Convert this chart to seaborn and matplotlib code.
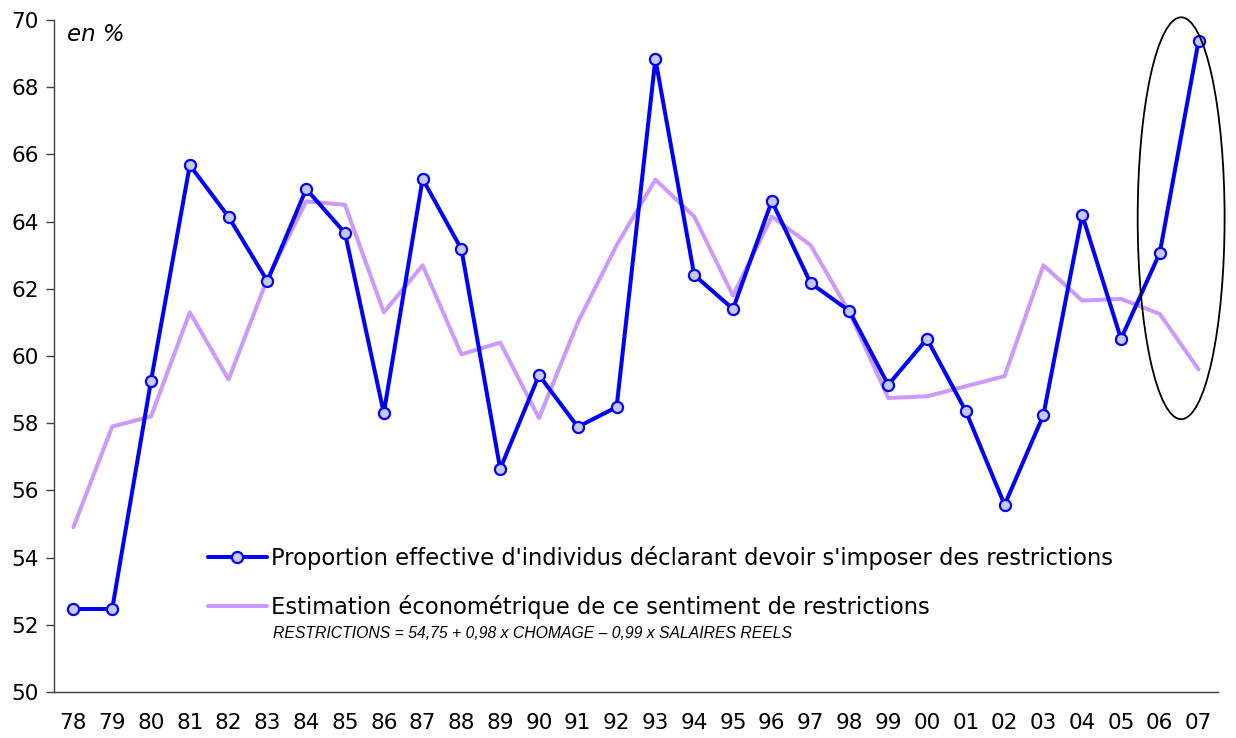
import numpy as np
import pandas as pd
import matplotlib.pyplot as plt
import seaborn as sns
from matplotlib.patches import Ellipse
from matplotlib.ticker import FixedLocator

# Data
years = ["78", "79", "80", "81", "82", "83", "84", "85", "86", "87",
         "88", "89", "90", "91", "92", "93", "94", "95", "96", "97",
         "98", "99", "00", "01", "02", "03", "04", "05", "06", "07"]
effective = [52.47, 52.47, 59.26, 65.68, 64.14, 62.23, 64.97, 63.66, 58.30, 65.27,
             63.18, 56.64, 59.43, 57.89, 58.48, 68.84, 62.41, 61.40, 64.61, 62.17,
             61.34, 59.14, 60.51, 58.36, 55.57, 58.24, 64.20, 60.51, 63.07, 69.38]
estimation = [54.9, 57.9, 58.2, 61.3, 59.3, 62.3, 64.6, 64.5, 61.3, 62.7,
              60.05, 60.4, 58.15, 61.0, 63.3, 65.25, 64.15, 61.8, 64.15, 63.3,
              61.3, 58.75, 58.8, 59.1, 59.4, 62.7, 61.65, 61.7, 61.25, 59.6]

label_eff = "Proportion effective d'individus déclarant devoir s'imposer des restrictions"
label_est = "Estimation économétrique de ce sentiment de restrictions"
equation = "RESTRICTIONS = 54,75 + 0,98 x CHOMAGE \u2013 0,99 x SALAIRES REELS"

df = pd.DataFrame({"idx": np.arange(len(years)), "eff": effective, "est": estimation})

sns.set_style("white")
plt.rcParams["font.family"] = ["DejaVu Sans"]
plt.rcParams["text.color"] = "black"

fig = plt.figure(figsize=(12.36, 7.38), dpi=100)
ax = fig.add_axes([54 / 1236, 1 - 692 / 738, 1164 / 1236, 672 / 738])

sns.lineplot(data=df, x="idx", y="est", ax=ax, color="#cc99ff", lw=2.9,
             label=label_est, zorder=2)
sns.lineplot(data=df, x="idx", y="eff", ax=ax, color="#0000ff", lw=2.9,
             marker="o", markersize=8, markerfacecolor="#c8c8f8",
             markeredgecolor="#0000ff", markeredgewidth=1.6,
             label=label_eff, zorder=3)

# highlight last two years
ax.add_patch(Ellipse((28.55, 64.1), 2.24, 11.96, fill=False, ec="black",
                     lw=1.3, clip_on=False, zorder=4))

ax.set_xlim(-0.5, len(years) - 0.5)
ax.set_ylim(50, 70)
ax.set_yticks(np.arange(50, 71, 2))
ax.set_xticks(np.arange(len(years)))
ax.set_xticklabels(years)
ax.xaxis.set_minor_locator(FixedLocator(np.arange(-0.5, len(years), 1)))
ax.tick_params(axis="x", which="major", length=0, pad=15, labelsize=15.5,
               labelcolor="black")
ax.tick_params(axis="x", which="minor", length=6, width=1, direction="out", color="#404040")
ax.tick_params(axis="y", length=6, width=1, direction="out", labelsize=15.5,
               pad=5, labelcolor="black", color="#404040", left=True)
ax.set_xlabel("")
ax.set_ylabel("")
for s in ["top", "right"]:
    ax.spines[s].set_visible(False)
for s in ["left", "bottom"]:
    ax.spines[s].set_color("#404040")
    ax.spines[s].set_linewidth(1)

ax.text(0.011, 0.995, "en %", transform=ax.transAxes, fontsize=16.5,
        style="italic", ha="left", va="top", color="black")

h, l = ax.get_legend_handles_labels()
leg = ax.legend([h[1], h[0]], [l[1], l[0]], loc="upper left",
                bbox_to_anchor=(208 / 1236, 1 - 546 / 738),
                bbox_transform=fig.transFigure, frameon=False, fontsize=16.3,
                handlelength=2.6, handletextpad=0.18, labelspacing=1.1,
                borderpad=0, borderaxespad=0, labelcolor="black")

fig.text(273 / 1236, 1 - 634 / 738, equation, fontsize=11.3, style="italic",
         family="Liberation Sans", ha="left", va="center", color="black")

fig.savefig("out.png", dpi=100)
